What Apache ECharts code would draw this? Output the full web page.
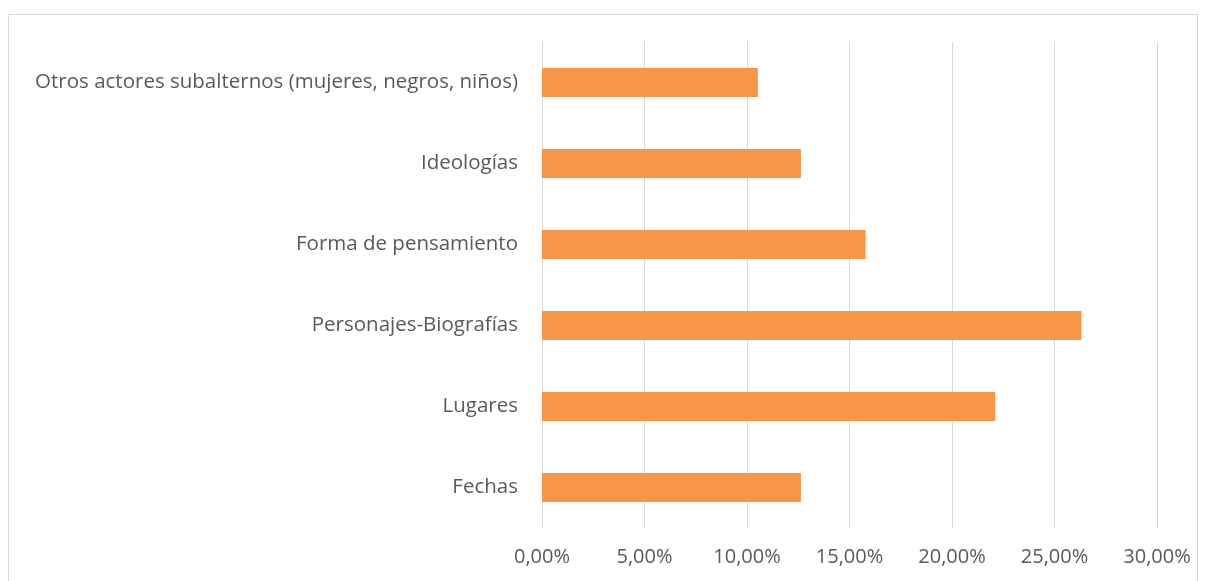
<!DOCTYPE html>
<html><head><meta charset="utf-8">
<script src="https://cdn.jsdelivr.net/npm/echarts@6/dist/echarts.min.js"></script>
<style>
html,body{margin:0;padding:0;background:#fff;}
#frame{position:absolute;left:8px;top:14px;width:1190px;height:600px;border:1px solid #d9d9d9;box-sizing:border-box;}
#chart{position:absolute;left:0;top:0;width:1208px;height:581px;}
</style></head>
<body>
<div id="frame"></div>
<div id="chart"></div>
<script>
const categories = ["Fechas", "Lugares", "Personajes-Biografías", "Forma de pensamiento", "Ideologías", "Otros actores subalternos (mujeres, negros, niños)"];
const values = [12.63, 22.11, 26.32, 15.79, 12.63, 10.53];
const xTicks = [0, 5, 10, 15, 20, 25, 30];

const chart = echarts.init(document.getElementById('chart'), null, {renderer: 'canvas'});
chart.setOption({
  animation: false,
  textStyle: {fontFamily: 'Open Sans'},
  grid: {left: 542, right: 51, top: 42, bottom: 53, containLabel: false},
  xAxis: {
    type: 'value', min: xTicks[0], max: xTicks[xTicks.length - 1], interval: 5,
    axisLine: {show: false}, axisTick: {show: false},
    splitLine: {show: true, lineStyle: {color: '#d9d9d9', width: 1}},
    axisLabel: {color: '#595959', fontSize: 20, margin: 19,
      formatter: v => v.toFixed(2).replace('.', ',') + '%'}
  },
  yAxis: {
    type: 'category', data: categories,
    axisLine: {show: true, lineStyle: {color: '#d9d9d9'}},
    axisTick: {show: false},
    axisLabel: {color: '#595959', fontSize: 20.5, margin: 24}
  },
  series: [{
    type: 'bar', data: values, barWidth: '36%',
    itemStyle: {color: '#f79646'}
  }]
});
</script>
</body></html>
